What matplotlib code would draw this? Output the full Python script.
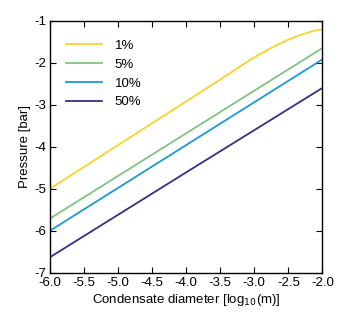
import numpy as np
import matplotlib
matplotlib.use('Agg')
import matplotlib.pyplot as plt

plt.rcParams['font.family'] = ['Liberation Sans', 'DejaVu Sans']
plt.rcParams['axes.unicode_minus'] = False

x_1pct = [-6.0, -5.5, -5.0, -4.5, -4.0, -3.5, -3.25, -3.0, -2.75, -2.5,
          -2.375, -2.25, -2.125, -2.0]
y_1pct = [-5.0, -4.48, -3.96, -3.44, -2.92, -2.40, -2.13, -1.87, -1.645, -1.45,
          -1.37, -1.30, -1.24, -1.20]
x_lin = [-6.0, -4.0, -2.0]
y_5pct = [-5.71, -3.68, -1.65]
y_10pct = [-6.0, -3.96, -1.92]
y_50pct = [-6.63, -4.61, -2.60]

labels = ['1%', '5%', '10%', '50%']
colors = ['#f8d42a', '#80c47e', '#1a9ad6', '#392d86']

fig = plt.figure(figsize=(3.5, 3.25), dpi=100)
ax = fig.add_axes([0.143, 0.161, 0.778, 0.775])

ax.plot(x_1pct, y_1pct, color=colors[0], lw=1.3, label=labels[0])
ax.plot(x_lin, y_5pct, color=colors[1], lw=1.3, label=labels[1])
ax.plot(x_lin, y_10pct, color=colors[2], lw=1.3, label=labels[2])
ax.plot(x_lin, y_50pct, color=colors[3], lw=1.3, label=labels[3])

ax.set_xlim(-6, -2)
ax.set_ylim(-7, -1)
xt = np.arange(-6, -1.99, 0.5)
ax.set_xticks(xt)
ax.set_xticklabels([f'{v:.1f}' for v in xt])
ax.set_yticks(range(-7, 0))
ax.tick_params(direction='in', top=True, right=True, length=4, width=0.8,
               labelsize=9.5, pad=3)
for s in ax.spines.values():
    s.set_linewidth(1.0)

ax.set_xlabel('Condensate diameter [log$_{10}$(m)]', fontsize=9.5, labelpad=2)
ax.set_ylabel('Pressure [bar]', fontsize=9.5, labelpad=2)

ax.legend(loc='upper left', bbox_to_anchor=(0.015, 0.972), frameon=False,
          fontsize=9.5, handlelength=2.7, handletextpad=1.0, labelspacing=0.5)

fig.savefig('out.png', dpi=100)
